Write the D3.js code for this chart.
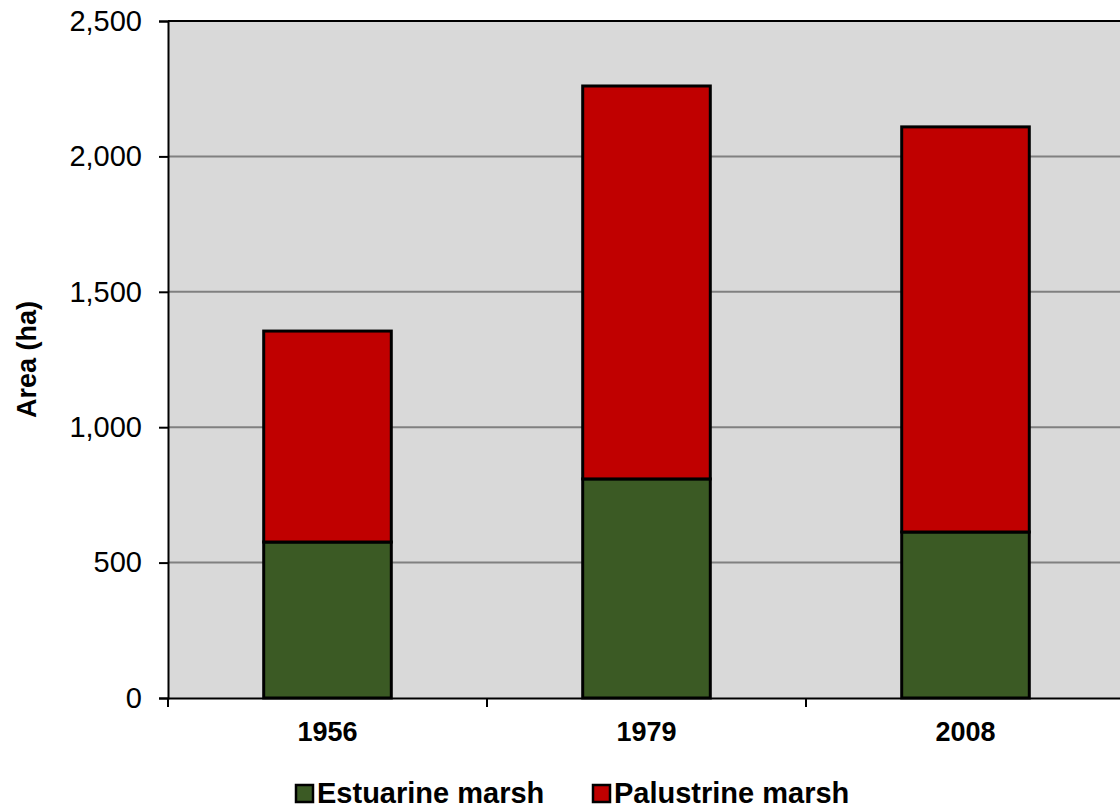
<!DOCTYPE html>
<html>
<head>
<meta charset="utf-8">
<script src="https://cdn.jsdelivr.net/npm/d3@7"></script>
<style>
body { margin: 0; background: #fff; }
svg text { font-family: "Liberation Sans", Arial, sans-serif; }
</style>
</head>
<body>
<div id="chart"></div>
<script>
// chart values
var years = ["1956", "1979", "2008"];
var estuarine = [576, 809, 613];
var palustrine = [779, 1451, 1496];
var seriesNames = ["Estuarine marsh", "Palustrine marsh"];
var yTicks = [0, 500, 1000, 1500, 2000, 2500];

var WIDTH = 1120,
	HEIGHT = 811,
	MARGINS = { top: 21, bottom: 113, left: 168, right: -5 };

var colors = { "Estuarine marsh": "#3b5a24", "Palustrine marsh": "#c00000" };

var svg = d3.select("#chart").append("svg")
	.attr("width", WIDTH)
	.attr("height", HEIGHT);

var xScale = d3.scaleBand()
	.domain(years)
	.range([MARGINS.left, WIDTH - MARGINS.right])
	.paddingInner(0.6)
	.paddingOuter(0.3);

var yScale = d3.scaleLinear()
	.domain([0, 2500])
	.range([HEIGHT - MARGINS.bottom, MARGINS.top]);

// plot background
svg.append("rect")
	.attr("x", MARGINS.left)
	.attr("y", yScale(2500))
	.attr("width", WIDTH - MARGINS.right - MARGINS.left)
	.attr("height", yScale(0) - yScale(2500))
	.attr("fill", "#d9d9d9");

// gridlines
svg.append("g")
	.selectAll("line")
	.data(yTicks.filter(function(d) { return d > 0 && d < 2500; }))
	.enter().append("line")
	.attr("x1", MARGINS.left)
	.attr("x2", WIDTH)
	.attr("y1", function(d) { return yScale(d); })
	.attr("y2", function(d) { return yScale(d); })
	.attr("stroke", "#808080")
	.attr("stroke-width", 2);

// top border
svg.append("line")
	.attr("x1", MARGINS.left).attr("x2", WIDTH)
	.attr("y1", yScale(2500)).attr("y2", yScale(2500))
	.attr("stroke", "#000").attr("stroke-width", 2);

// stacked data
var table = years.map(function(y, i) {
	return { year: y, "Estuarine marsh": estuarine[i], "Palustrine marsh": palustrine[i] };
});
var stack = d3.stack().keys(seriesNames)(table);

svg.append("g")
	.selectAll("g")
	.data(stack)
	.enter().append("g")
	.attr("fill", function(d) { return colors[d.key]; })
	.selectAll("rect")
	.data(function(d) { return d; })
	.enter().append("rect")
	.attr("x", function(d) { return xScale(d.data.year); })
	.attr("y", function(d) { return yScale(d[1]); })
	.attr("width", xScale.bandwidth())
	.attr("height", function(d) { return yScale(d[0]) - yScale(d[1]); })
	.attr("stroke", "#000")
	.attr("stroke-width", 3);

// Y axis
var yAxis = svg.append("g")
	.attr("transform", "translate(" + MARGINS.left + ",0)")
	.call(d3.axisLeft(yScale).tickValues(yTicks).tickSize(9).tickFormat(d3.format(",")));
yAxis.select(".domain").attr("stroke", "#000").attr("stroke-width", 2);
yAxis.selectAll(".tick line").attr("stroke", "#000").attr("stroke-width", 2);
yAxis.selectAll("text")
	.attr("x", -26)
	.style("font-size", "29px")
	.attr("fill", "#000");

// X axis
var xAxis = svg.append("g")
	.attr("transform", "translate(0," + yScale(0) + ")")
	.call(d3.axisBottom(xScale).tickSize(0).tickPadding(24));
xAxis.select(".domain").attr("stroke", "#000").attr("stroke-width", 2);
xAxis.selectAll("text")
	.style("font-size", "27px")
	.style("font-weight", "bold")
	.attr("fill", "#000");

// category separator ticks
var step = xScale.step();
var sepX = years.map(function(y) { return xScale(y) - xScale.paddingInner() * step / 2; });
svg.append("g")
	.selectAll("line")
	.data(sepX)
	.enter().append("line")
	.attr("x1", function(d) { return d; })
	.attr("x2", function(d) { return d; })
	.attr("y1", yScale(0))
	.attr("y2", yScale(0) + 9)
	.attr("stroke", "#000")
	.attr("stroke-width", 2);

// Y title
svg.append("text")
	.attr("transform", "translate(36," + ((yScale(0) + yScale(2500)) / 2) + ") rotate(-90)")
	.style("text-anchor", "middle")
	.style("font-size", "27px")
	.style("font-weight", "bold")
	.text("Area (ha)");

// legend
var legendX = [296, 593];
var legend = svg.append("g")
	.selectAll("g")
	.data(seriesNames)
	.enter().append("g")
	.attr("transform", function(d, i) { return "translate(" + legendX[i] + ",785)"; });
legend.append("rect")
	.attr("width", 17)
	.attr("height", 17)
	.attr("fill", function(d) { return colors[d]; })
	.attr("stroke", "#000")
	.attr("stroke-width", 2.5);
legend.append("text")
	.attr("x", 21)
	.attr("y", 18)
	.style("font-size", "29px")
	.style("font-weight", "bold")
	.text(function(d) { return d; });
</script>
</body>
</html>
